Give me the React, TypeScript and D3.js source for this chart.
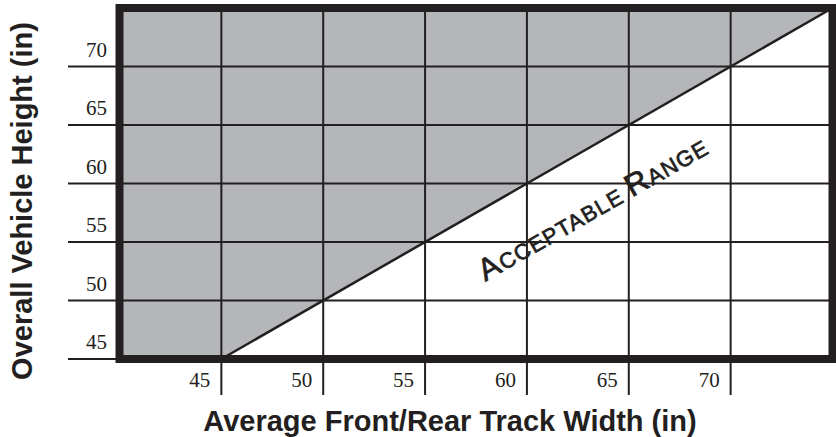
import { useMemo } from 'react';
import * as d3 from 'd3';

const trackTicks = [45, 50, 55, 60, 65, 70];
const heightTicks = [45, 50, 55, 60, 65, 70];
const trackDomain = [40, 75];
const heightDomain = [45, 75];
// boundary of the acceptable range: height equals track width
const boundary = [
  { track: 45, height: 45 },
  { track: 75, height: 75 },
];
const shadedRegion = [
  { track: 40, height: 45 },
  { track: 45, height: 45 },
  { track: 75, height: 75 },
  { track: 40, height: 75 },
];

const W = 836;
const H = 437;
const INK = '#231f20';
const SHADE = '#b5b6b9';

export default function App() {
  const x = useMemo(() => d3.scaleLinear().domain(trackDomain).range([119.5, 832.5]), []);
  const y = useMemo(() => d3.scaleLinear().domain(heightDomain).range([359, 8]), []);

  const area = d3
    .line<{ track: number; height: number }>()
    .x((d) => x(d.track))
    .y((d) => y(d.height));

  const angle = (Math.atan2(y(70) - y(50), x(70) - x(50)) * 180) / Math.PI;

  return (
    <svg
      width={W}
      height={H}
      style={{ position: 'absolute', left: 0, top: 0, background: '#fff' }}
    >
      <path d={area(shadedRegion) + 'Z'} fill={SHADE} />

      {/* horizontal grid + left ticks */}
      {heightTicks.map((t) => (
        <line key={'h' + t} x1={68} x2={x(75)} y1={y(t)} y2={y(t)} stroke={INK} strokeWidth={2} />
      ))}
      {/* vertical grid + bottom ticks */}
      {trackTicks.map((t) => (
        <line key={'v' + t} x1={x(t)} x2={x(t)} y1={y(75)} y2={395} stroke={INK} strokeWidth={2} />
      ))}

      <path d={area(boundary) ?? ''} stroke={INK} strokeWidth={2.5} fill="none" />

      <rect
        x={x(40)}
        y={y(75)}
        width={x(75) - x(40)}
        height={y(45) - y(75)}
        fill="none"
        stroke={INK}
        strokeWidth={8}
      />

      {heightTicks.map((t) => (
        <text
          key={'yl' + t}
          x={107}
          y={y(t) - 10}
          textAnchor="end"
          fontFamily="'Liberation Serif', serif"
          fontSize={21}
          fill={INK}
        >
          {t}
        </text>
      ))}
      {trackTicks.map((t) => (
        <text
          key={'xl' + t}
          x={x(t) - 11}
          y={387}
          textAnchor="end"
          fontFamily="'Liberation Serif', serif"
          fontSize={21}
          fill={INK}
        >
          {t}
        </text>
      ))}

      <text
        transform={`translate(598,217) rotate(${angle})`}
        textAnchor="middle"
        fontFamily="'Liberation Sans', Arial, sans-serif"
        fill={INK}
        stroke={INK}
        strokeWidth={0.7}
        letterSpacing={1.2}
      >
        <tspan fontSize={31}>A</tspan>
        <tspan fontSize={22}>CCEPTABLE </tspan>
        <tspan fontSize={31}>R</tspan>
        <tspan fontSize={22}>ANGE</tspan>
      </text>

      <text
        x={450}
        y={431}
        textAnchor="middle"
        fontFamily="'Liberation Sans', Arial, sans-serif"
        fontWeight="bold"
        fontSize={29}
        fill={INK}
      >
        Average Front/Rear Track Width (in)
      </text>
      <text
        transform="translate(32,201) rotate(-90)"
        textAnchor="middle"
        fontFamily="'Liberation Sans', Arial, sans-serif"
        fontWeight="bold"
        fontSize={29}
        fill={INK}
      >
        Overall Vehicle Height (in)
      </text>
    </svg>
  );
}
